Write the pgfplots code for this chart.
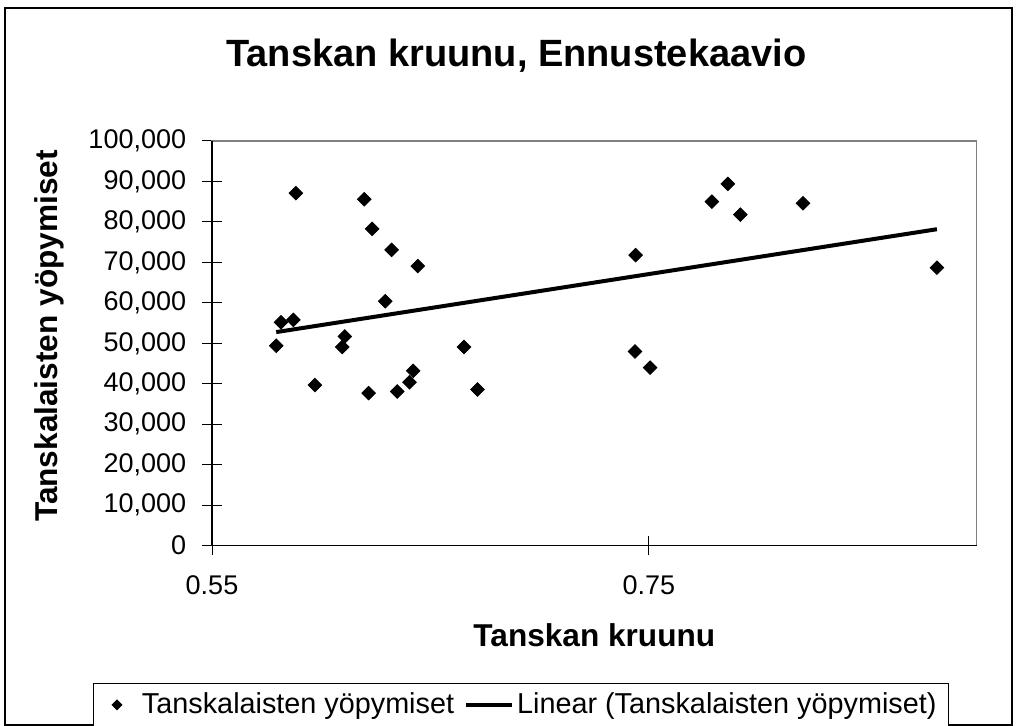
\documentclass[border=0pt]{standalone}
\usepackage{pgfplots}
\pgfplotsset{compat=1.18}
\usepackage{fontspec}
\setmainfont{Liberation Sans}
\pgfplotsset{
  diamleg/.style={legend image code/.code={\path[draw=none] (0pt,0pt) -- (18pt,0pt); \draw[##1, mark size=1.7pt] plot coordinates {(6.5pt,0pt)};}},
  lineleg/.style={legend image code/.code={\draw[##1] (0pt,0pt) -- (23pt,0pt); \path[draw=none] (24.5pt,0pt);}},
}
\begin{document}
\begin{tikzpicture}
\useasboundingbox[fill=white] (0pt,0pt) rectangle (508.5pt,-363pt);
\draw[black, line width=0.6pt] (2.5pt,-4pt) rectangle (506pt,-362.5pt);
\begin{axis}[
  at={(106pt,-272.85pt)}, anchor=south west,
  scale only axis, width=382.35pt, height=202.35pt,
  xmin=0.55, xmax=0.9, ymin=0, ymax=100000,
  xtick={0.55,0.75}, xticklabels={0.55,0.75},
  ytick={0,10000,20000,30000,40000,50000,60000,70000,80000,90000,100000},
  scaled y ticks=false,
  /pgf/number format/assume math mode=true,
  yticklabel style={/pgf/number format/fixed, /pgf/number format/1000 sep={,}, anchor=east, inner sep=0pt, xshift=-8pt, font=\fontsize{13.5}{15}\selectfont},
  xticklabel style={anchor=north, inner sep=0pt, yshift=-10pt, font=\fontsize{13.5}{15}\selectfont},
  tick pos=left, tick align=center, major tick length=9.5pt,
  tick style={black, line width=0.5pt},
  axis line style={draw=gray, line width=0.6pt},
  clip=false,
  title={Tanskan kruunu, Ennustekaavio},
  title style={at={(axis description cs:0.398,1.155)}, anchor=base, yshift=0pt, font=\bfseries\fontsize{19}{22}\selectfont},
  xlabel={Tanskan kruunu},
  xlabel style={at={(axis description cs:0.5,-0.2496)}, anchor=base, font=\bfseries\fontsize{15.8}{18}\selectfont},
  ylabel={Tanskalaisten yöpymiset},
  ylabel style={at={(axis description cs:-0.2014,0.518)}, anchor=base, font=\bfseries\fontsize{15.8}{18}\selectfont},
  legend columns=-1,
  legend style={at={(axis description cs:0.9638,-0.3385)}, anchor=north east,
    draw=black, line width=0.5pt, inner xsep=5pt, inner ysep=3.9pt,
    font=\fontsize{14.4}{16}\selectfont, nodes={inner sep=1pt},
    /tikz/every even column/.append style={column sep=4pt}},
]
\draw[black, line width=0.6pt] (rel axis cs:0,1) -- (rel axis cs:0,0) -- (rel axis cs:1,0);
\addplot[only marks, mark=square*, mark size=2.4pt,
  mark options={rotate=45, fill=black, draw=black}, diamleg]
  table[row sep=\\] {
x y \\
0.5794 49400 \\
0.5816 55200 \\
0.5872 55800 \\
0.5884 87100 \\
0.5971 39700 \\
0.6096 49100 \\
0.6108 51700 \\
0.6197 85600 \\
0.6217 37700 \\
0.6233 78300 \\
0.6293 60400 \\
0.6322 73100 \\
0.6348 38100 \\
0.6404 40400 \\
0.6421 43200 \\
0.6442 69100 \\
0.6653 49100 \\
0.6715 38600 \\
0.7436 48000 \\
0.7439 71800 \\
0.7505 44000 \\
0.7788 85000 \\
0.7861 89400 \\
0.7918 81800 \\
0.8205 84600 \\
0.8818 68700 \\
};
\addplot[black, line width=2pt, lineleg]
  coordinates {(0.5794,52780) (0.8818,78200)};
\legend{Tanskalaisten yöpymiset, Linear (Tanskalaisten yöpymiset)}
\end{axis}
\end{tikzpicture}
\end{document}
